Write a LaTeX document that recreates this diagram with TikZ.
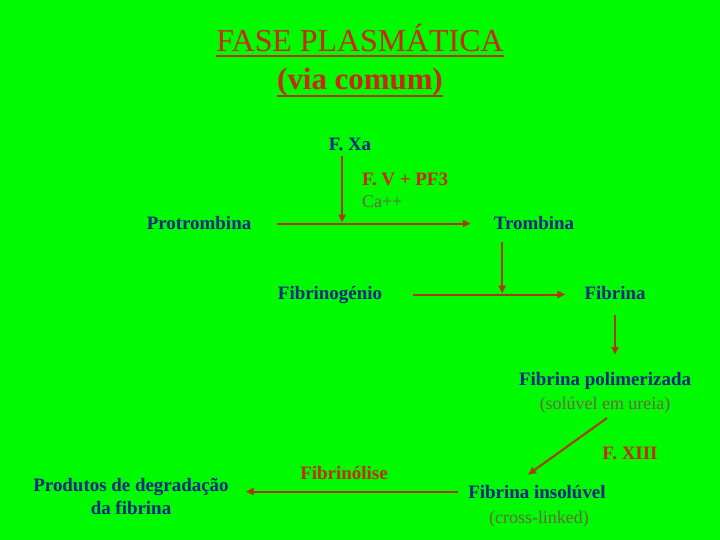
\documentclass[tikz,border=0pt]{standalone}
\usepackage{fontspec}
\setmainfont{Liberation Serif}
\usetikzlibrary{positioning, arrows.meta}

\definecolor{bggreen}{RGB}{0,250,0}
\definecolor{navy}{RGB}{12,40,130}
\definecolor{brickred}{RGB}{200,40,20}
\definecolor{rust}{RGB}{175,55,20}
\definecolor{greybrown}{RGB}{110,100,70}

\begin{document}
\begin{tikzpicture}[x=1bp, y=-1bp,
  every node/.style={inner sep=0pt, anchor=base},
  factor/.style={font=\fontsize{19}{23}\selectfont\bfseries, text=navy},
  agent/.style={font=\fontsize{19}{23}\selectfont\bfseries, text=brickred},
  note/.style={font=\fontsize{18}{22}\selectfont, text=greybrown},
  flow/.style={draw=rust, line width=2pt, -{Triangle[length=8pt,width=7pt,fill=brickred]}}]
	% Background
	\fill[bggreen] (0,0) rectangle (720,540);
	\useasboundingbox (0,0) rectangle (720,540);
	
	% Title
	\node[font=\fontsize{32}{36}\selectfont, text=brickred] (title) at (360,52) {FASE PLASMÁTICA};
	\node[font=\fontsize{31}{36}\selectfont\bfseries, text=brickred] (subtitle) at (360,90) {(via comum)};
	\draw[rust, line width=2pt] ([yshift=-4]title.base west) -- ([yshift=-4]title.base east);
	\draw[rust, line width=2pt] ([yshift=-6]subtitle.base west) -- ([yshift=-6]subtitle.base east);
	
	% Nodes
	\node[factor] (fxa) at (350,151) {F. Xa};
	\node[agent, anchor=base west] (fv) at (362,186) {F. V + PF3};
	\node[note, anchor=base west] (ca) at (362,208) {Ca++};
	\node[factor] (prot) at (199,230) {Protrombina};
	\node[factor] (tromb) at (534,230) {Trombina};
	\node[factor] (fibrinog) at (330,299) {Fibrinogénio};
	\node[factor] (fibrina) at (615,299) {Fibrina};
	\node[factor] (polim) at (605,385) {Fibrina polimerizada};
	\node[note] (sol) at (605,409) {(solúvel em ureia)};
	\node[agent] (fxiii) at (630,459) {F. XIII};
	\node[agent] (lise) at (344,479) {Fibrinólise};
	\node[factor] (insol) at (537,498) {Fibrina insolúvel};
	\node[note] (cross) at (539,523) {(cross-linked)};
	\node[factor, align=center, anchor=north] (prod) at (131,478) {Produtos de degradação\\da fibrina};
	
	% Arrows
	\draw[flow, shorten <=26pt, shorten >=23pt] (prot.east) -- (tromb.west |- prot.east);
	\draw[flow, shorten <=5pt, shorten >=1pt] ([xshift=-8]fxa.south) -- ([xshift=-8]fxa.south |- prot.east);
	\draw[flow, shorten <=31pt, shorten >=19pt] (fibrinog.east) -- (fibrina.west |- fibrinog.east);
	\draw[flow, shorten <=12pt, shorten >=1pt] ([xshift=-32]tromb.south) -- ([xshift=-32]tromb.south |- fibrinog.east);
	\draw[flow, shorten <=16pt, shorten >=17pt] (fibrina.south) -- (fibrina.south |- polim.north);
	\draw[flow] ([shift={(2,5)}]sol.south) -- ([shift={(-9,-10)}]insol.north);
	\draw[flow, shorten <=10pt, shorten >=17pt] (insol.west) -- (insol.west -| prod.east);
\end{tikzpicture}
\end{document}
